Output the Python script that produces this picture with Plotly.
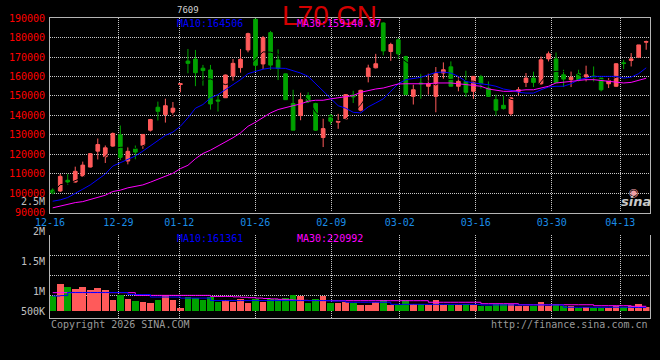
import plotly.graph_objects as go
import pandas as pd

W, H = 660, 360

date_labels = ["12-16", "12-29", "01-12", "01-26", "02-09", "03-02", "03-16", "03-30", "04-13"]
date_label_index = [0, 9, 17, 27, 37, 46, 56, 66, 75]

opens = [101500, 101100, 106600, 105700, 108800, 113400, 121600, 118700, 124200, 130000,
         116500, 122800, 124500, 132400, 144200, 140400, 141600, 155900, 168000, 169000,
         164300, 163400, 147900, 149100, 160300, 164600, 173700, 189500, 166500, 182600,
         168500, 161400, 146100, 139900, 150200, 146100, 128600, 139900, 136500, 138200,
         150500, 142700, 160100, 164500, 187600, 172900, 178900, 170300, 149800, 156700,
         155000, 149800, 161800, 165000, 155000, 157500, 152400, 159900, 154100, 148100,
         145200, 140900, 152400, 157000, 159200, 156300, 169100, 169100, 160900, 158400,
         161500, 159600, 160300, 159200, 156300, 155000, 167100, 168300, 170000, 177700]
highs = [102400, 109800, 109800, 113600, 116200, 120600, 128100, 124500, 131200, 134800,
         123800, 124500, 130300, 138200, 147100, 148600, 146900, 156300, 174200, 173700,
         166000, 166000, 150300, 161000, 169000, 174200, 182600, 190000, 180900, 183500,
         174000, 161500, 153200, 151900, 151900, 146500, 138400, 140800, 140800, 150700,
         152700, 153200, 166100, 171700, 187900, 177400, 179700, 170700, 155800, 161500,
         161500, 164900, 167300, 167800, 160100, 163000, 160100, 160900, 157500, 150700,
         150700, 149500, 154600, 161800, 162500, 170300, 172900, 172400, 163500, 162600,
         163500, 165600, 165200, 159200, 159200, 166900, 168600, 172100, 176300, 178500]
lows = [99400, 100600, 104200, 105400, 108600, 113200, 117300, 115500, 123800, 117000,
        114800, 117400, 122800, 131700, 137400, 136300, 139400, 151900, 161700, 155000,
        155300, 143000, 142000, 149000, 157900, 162000, 172500, 163000, 163900, 163400,
        158200, 148000, 132400, 137500, 146700, 132000, 123700, 135300, 133100, 138000,
        146400, 142100, 157000, 164200, 170900, 168100, 169100, 150500, 145600, 148600,
        150700, 141600, 158900, 155000, 152400, 149500, 148500, 153800, 149500, 139900,
        143000, 139900, 150200, 154600, 154600, 155800, 167800, 157000, 154600, 154600,
        157500, 157500, 157500, 152400, 154100, 154600, 163800, 165200, 169500, 173800]
closes = [100100, 108600, 105700, 111200, 114400, 120300, 125000, 123300, 130700, 118400,
          121500, 121100, 130200, 137900, 142100, 145000, 143700, 156300, 166800, 162000,
          163100, 145900, 147400, 160800, 166800, 168900, 182100, 165800, 180000, 165900,
          164200, 148100, 132400, 148100, 146800, 132400, 133200, 137000, 137000, 150700,
          149500, 152900, 164400, 166600, 173200, 176500, 171700, 150700, 153200, 156300,
          156300, 161500, 163500, 155000, 157500, 151900, 160100, 156300, 149800, 142700,
          143500, 149000, 153200, 159200, 157000, 168600, 171700, 157000, 158700, 159600,
          158400, 160900, 159700, 153200, 157900, 166600, 166700, 169100, 176300, 178000]

ma10 = [95800, 96500, 97700, 99700, 102000, 104200, 106800, 109800, 113900, 115600,
        117000, 119100, 121600, 124200, 126900, 129700, 131400, 134400, 138700, 143700,
        145600, 149000, 150700, 153200, 155800, 158400, 161500, 162700, 163800, 164400,
        164400, 164200, 163000, 161800, 160100, 156300, 152400, 149000, 145000, 143700,
        141600, 141300, 144400, 146400, 148500, 152400, 156300, 158400, 158900, 159600,
        160900, 162100, 162300, 161800, 160100, 157500, 156700, 156300, 155800, 155000,
        153600, 152900, 151900, 151500, 151500, 153200, 154600, 155000, 155000, 156300,
        158400, 159200, 160100, 160100, 160100, 160100, 159200, 159700, 161500, 164506]
ma30 = [92400, 93400, 94300, 95100, 95600, 96800, 98000, 98900, 100800, 101500,
        102700, 103300, 104200, 105600, 107100, 108800, 110200, 112600, 114300, 117700,
        120400, 122100, 124200, 126400, 128500, 131000, 134400, 136500, 138700, 141300,
        143000, 144200, 145000, 145900, 147300, 147800, 147800, 148500, 149000, 149500,
        150200, 151900, 152900, 153600, 154100, 155000, 156200, 156300, 156300, 156300,
        156300, 156700, 156700, 156700, 156300, 155800, 155300, 155000, 153600, 152900,
        152400, 152400, 152900, 153200, 153200, 154100, 155000, 156700, 157000, 157500,
        158000, 158400, 158400, 158000, 157500, 157000, 156700, 157000, 158000, 159140.87]

volumes = [720000, 1280000, 1150000, 1040000, 1140000, 990000, 1090000, 1020000, 510000, 750000,
           560000, 470000, 420000, 370000, 510000, 750000, 540000, 140000, 670000, 640000,
           510000, 670000, 430000, 540000, 430000, 560000, 380000, 590000, 430000, 590000,
           560000, 610000, 750000, 720000, 380000, 590000, 720000, 380000, 380000, 420000,
           380000, 300000, 270000, 450000, 510000, 270000, 270000, 510000, 350000, 350000,
           270000, 510000, 270000, 270000, 270000, 350000, 270000, 240000, 230000, 320000,
           320000, 350000, 230000, 230000, 230000, 420000, 230000, 350000, 230000, 230000,
           130000, 190000, 130000, 130000, 130000, 230000, 190000, 230000, 320000, 190000]
vol_ma10 = [720000, 740000, 890000, 890000, 890000, 890000, 890000, 890000, 890000, 890000,
            790000, 790000, 790000, 670000, 670000, 670000, 670000, 620000, 620000, 620000,
            620000, 500000, 500000, 500000, 500000, 500000, 500000, 500000, 500000, 500000,
            500000, 500000, 500000, 500000, 500000, 500000, 500000, 480000, 480000, 420000,
            420000, 420000, 420000, 420000, 420000, 320000, 320000, 320000, 320000, 320000,
            320000, 320000, 320000, 320000, 320000, 320000, 320000, 290000, 290000, 290000,
            290000, 290000, 290000, 290000, 290000, 290000, 290000, 290000, 180000, 180000,
            180000, 180000, 180000, 180000, 180000, 180000, 180000, 170000, 165000, 161361]
vol_ma30 = [880000, 880000, 880000, 880000, 880000, 880000, 880000, 880000, 880000, 880000,
            880000, 750000, 750000, 750000, 750000, 750000, 750000, 750000, 750000, 750000,
            750000, 700000, 700000, 700000, 680000, 660000, 640000, 620000, 600000, 580000,
            560000, 540000, 520000, 510000, 500000, 500000, 495000, 495000, 495000, 495000,
            495000, 495000, 495000, 495000, 495000, 495000, 495000, 495000, 495000, 495000,
            420000, 420000, 420000, 420000, 420000, 420000, 420000, 350000, 350000, 350000,
            350000, 350000, 300000, 300000, 300000, 300000, 300000, 300000, 300000, 300000,
            300000, 300000, 255000, 255000, 255000, 255000, 255000, 225000, 225000, 220992]

vol_axis_labels = ["2.5M", "2M", "1.5M", "1M", "500K"]
vol_axis_label_y = [201, 231, 261, 291, 311]

RED = "#ff5a5a"
GREEN = "#00a300"
BLUE = "#0000ff"
MAGENTA = "#ff00ff"
GRID = "#c8c8c8"
BORDER = "#b4b4b4"
MONO = "DejaVu Sans Mono"

idx = list(range(len(opens)))
ma5 = pd.Series(closes).rolling(5, min_periods=1).mean().tolist()
vol_colors = [RED if c >= o else GREEN for o, c in zip(opens, closes)]

X0, X1 = 50, 649.5
PY0, PY1 = 18.3, 212.5
VY0, VY1 = 235, 318.3
VBASE = 311
VPX = 48000  # volume per pixel

# the date grid of the source runs on a slightly wider step than the candles
TICK_STEP = 1.012
TICK_SHIFT = -0.36
tick_pos = [TICK_SHIFT + i * TICK_STEP for i in date_label_index]


def fx(p):
    return p / W


def fy(p):
    return 1 - p / H


fig = go.Figure()
fig.add_trace(go.Candlestick(
    x=idx, open=opens, high=highs, low=lows, close=closes,
    increasing=dict(line=dict(color=RED, width=1), fillcolor=RED),
    decreasing=dict(line=dict(color=GREEN, width=1), fillcolor=GREEN),
    whiskerwidth=0, xaxis="x", yaxis="y", showlegend=False, hoverinfo="skip"))
fig.add_trace(go.Scatter(x=idx, y=ma5, mode="lines", line=dict(color="#000000", width=1),
                         xaxis="x", yaxis="y", showlegend=False, hoverinfo="skip"))
fig.add_trace(go.Scatter(x=idx, y=ma10, mode="lines", line=dict(color=BLUE, width=1),
                         xaxis="x", yaxis="y", showlegend=False, hoverinfo="skip"))
fig.add_trace(go.Scatter(x=idx, y=ma30, mode="lines", line=dict(color=MAGENTA, width=1),
                         xaxis="x", yaxis="y", showlegend=False, hoverinfo="skip"))

fig.add_trace(go.Bar(x=idx, y=volumes, marker=dict(color=vol_colors, line=dict(width=0)),
                     width=0.88, xaxis="x2", yaxis="y2", showlegend=False, hoverinfo="skip"))
fig.add_trace(go.Scatter(x=idx, y=vol_ma30, mode="lines", line=dict(color=MAGENTA, width=1, shape="hv"),
                         xaxis="x2", yaxis="y2", showlegend=False, hoverinfo="skip"))
fig.add_trace(go.Scatter(x=idx, y=vol_ma10, mode="lines", line=dict(color=BLUE, width=1, shape="hv"),
                         xaxis="x2", yaxis="y2", showlegend=False, hoverinfo="skip"))

xrange = [-0.36, 79.44]
vol_range = [-(VY1 - VBASE) * VPX, (VBASE - VY0) * VPX]
vol_grid = [(VBASE - p) * VPX for p in (255, 275, 295)]

fig.update_layout(
    width=W, height=H, margin=dict(l=0, r=0, t=0, b=0, pad=0, autoexpand=False),
    paper_bgcolor="#000000", plot_bgcolor="#000000",
    showlegend=False, bargap=0,
    xaxis=dict(domain=[fx(X0), fx(X1)], range=xrange, anchor="y", automargin=False,
               tickmode="array", tickvals=tick_pos, ticktext=date_labels,
               tickfont=dict(family=MONO, size=10, color="#1a8ce6"), ticks="",
               showgrid=True, gridcolor=GRID, griddash="1px,1px", gridwidth=1,
               showline=True, linecolor=BORDER, linewidth=1, mirror=True,
               zeroline=False, rangeslider=dict(visible=False)),
    yaxis=dict(domain=[fy(PY1), fy(PY0)], range=[90000, 190000], anchor="x", automargin=False,
               tickmode="linear", tick0=90000, dtick=10000, tickformat="d",
               tickfont=dict(family=MONO, size=10, color="#ff0000"), ticks="",
               showgrid=True, gridcolor=GRID, griddash="1px,1px", gridwidth=1,
               showline=True, linecolor=BORDER, linewidth=1, mirror=True,
               zeroline=False, ticklabelstandoff=2),
    xaxis2=dict(domain=[fx(X0), fx(X1)], range=xrange, anchor="y2", matches="x", automargin=False,
                tickmode="array", tickvals=tick_pos, showticklabels=False, ticks="",
                showgrid=True, gridcolor=GRID, griddash="1px,1px", gridwidth=1,
                showline=True, linecolor=BORDER, linewidth=1, mirror=False, zeroline=False),
    yaxis2=dict(domain=[fy(VY1), fy(VY0)], range=vol_range, anchor="x2", automargin=False,
                showticklabels=False, ticks="", showgrid=False, zeroline=False,
                showline=True, linecolor=BORDER, linewidth=1, mirror=True,
                minor=dict(tickmode="array", tickvals=vol_grid + [vol_range[1]], showgrid=True,
                           gridcolor=GRID, griddash="1px,1px", gridwidth=1, ticks="")),
)

ann = []


def text(x, y, s, color, size=10, family=MONO, xanchor="left", **kw):
    ann.append(dict(x=fx(x), y=fy(y), xref="paper", yref="paper", text=s, showarrow=False,
                    xanchor=xanchor, yanchor="middle", font=dict(family=family, size=size, color=color), **kw))


text(329, 16, "L70 CN", "#d40000", size=28, family="Liberation Sans", xanchor="center")
text(188, 10, "7609", "#d0d0d0", size=9, xanchor="center")
text(175, 23.5, "MA10:164506", BLUE)
text(295, 23.5, "MA30:159140.87", MAGENTA)
text(175, 238.5, "MA10:161361", BLUE)
text(295, 238.5, "MA30:220992", MAGENTA)
for lab, yy in zip(vol_axis_labels, vol_axis_label_y):
    text(47, yy, lab, "#c0c0c0", xanchor="right")
text(49, 324, "Copyright 2026 SINA.COM", "#9a9a9a")
text(650, 324, "http://finance.sina.com.cn", "#9a9a9a", xanchor="right")
text(634, 192, "◉", "#f0a0a8", size=11, family="DejaVu Sans", xanchor="center")
text(636, 201, "<b><i>sina</i></b>", "#c8c8c8", size=13, family="DejaVu Sans", xanchor="center")
fig.update_layout(annotations=ann)

fig.write_html(
    "out.html",
    config={"responsive": False, "displayModeBar": False},
    post_script="document.body.style.margin='0';document.body.style.background='#000';"
                "document.documentElement.style.overflow='hidden';",
)
